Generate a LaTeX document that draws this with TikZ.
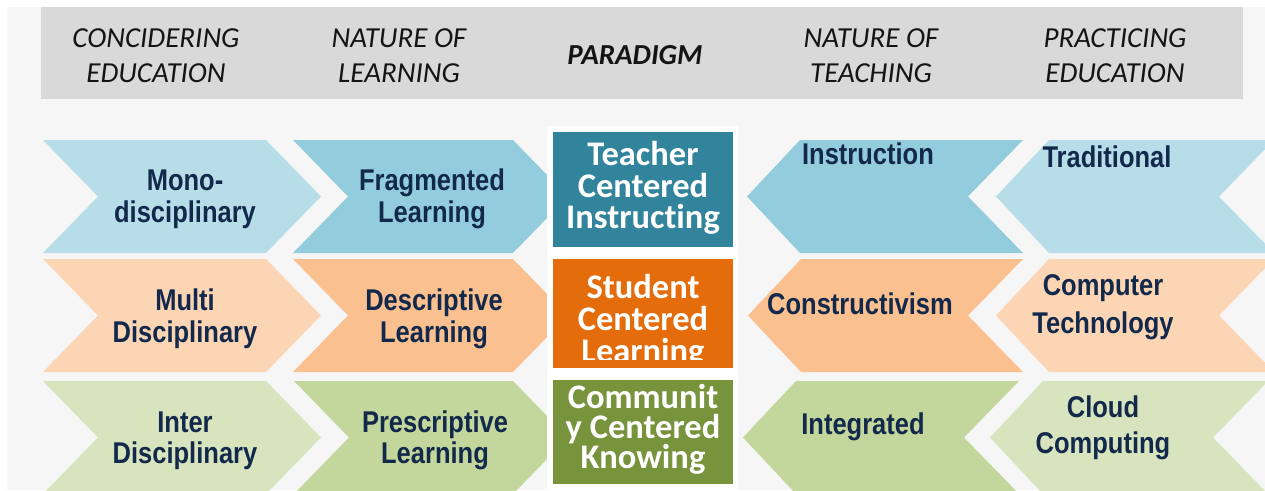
\documentclass[tikz,border=0pt]{standalone}
\usepackage{fontspec}
\newfontfamily\chevf[FakeStretch=0.85]{Liberation Sans}
\newfontfamily\calf[Ligatures=NoCommon]{Carlito}
\definecolor{bgc}{HTML}{F6F6F6}
\definecolor{hdrc}{HTML}{D9D9D9}
\definecolor{navy}{HTML}{13294B}
\definecolor{blueA}{HTML}{B7DEE8}
\definecolor{blueB}{HTML}{93CDDD}
\definecolor{orA}{HTML}{FCD5B5}
\definecolor{orB}{HTML}{FAC090}
\definecolor{grA}{HTML}{D7E4BD}
\definecolor{grB}{HTML}{C3D69B}
\definecolor{tealc}{HTML}{31849B}
\definecolor{orangec}{HTML}{E46C0A}
\definecolor{greenc}{HTML}{77933C}
% right-pointing chevron: left x, top y, top-right x, colour
\newcommand\rchev[4]{\fill[#4] (#1,#2) -- (#3,#2) -- ({#3+55},{#2+56.5}) -- (#3,{#2+113}) -- (#1,{#2+113}) -- ({#1+55},{#2+56.5}) -- cycle;}
% left-pointing chevron: tip x, top y, notch x, colour
\newcommand\lchev[4]{\fill[#4] (#1,{#2+56.5}) -- ({#1+53},#2) -- ({#3+55},#2) -- (#3,{#2+56.5}) -- ({#3+55},{#2+113}) -- ({#1+53},{#2+113}) -- cycle;}
\begin{document}
\begin{tikzpicture}[x=1pt,y=-1pt,
  lbl/.style={anchor=base,inner sep=0pt,text=navy,font=\chevf\bfseries\fontsize{30}{32}\selectfont},
  hd/.style={anchor=base,inner sep=0pt,text=black!92,font=\calf\itshape\fontsize{29}{35}\selectfont},
  mid/.style={anchor=base,inner sep=0pt,text=white,font=\calf\bfseries\fontsize{34.5}{33}\selectfont}]
\useasboundingbox (0,0) rectangle (1265,490);
\clip (0,0) rectangle (1265,490);
\fill[white] (0,0) rectangle (1265,490);
\fill[bgc] (7,7) rectangle (1265,490);
% header bar
\fill[hdrc] (41,7) rectangle (1243,99);
\node[hd] (h1a) at (156,47) {CONCIDERING};
\node[hd] (h1b) at (156,82) {EDUCATION};
\node[hd] (h2a) at (399,47) {NATURE OF};
\node[hd] (h2b) at (399,82) {LEARNING};
\node[hd,font=\calf\bfseries\itshape\fontsize{29}{35}\selectfont] (h3) at (635,64) {PARADIGM};
\node[hd] (h4a) at (871,47) {NATURE OF};
\node[hd] (h4b) at (871,82) {TEACHING};
\node[hd] (h5a) at (1115,47) {PRACTICING};
\node[hd] (h5b) at (1115,82) {EDUCATION};
% left chevrons
\rchev{43}{140}{266}{blueA}
\rchev{293}{140}{513}{blueB}
\rchev{43}{259}{266}{orA}
\rchev{293}{259}{513}{orB}
\rchev{43}{381}{266}{grA}
\rchev{294}{381}{513}{grB}
% right chevrons
\lchev{747}{140}{968}{blueB}
\lchev{996}{140}{1219}{blueA}
\lchev{748}{259}{968}{orB}
\lchev{996}{259}{1219}{orA}
\lchev{743}{381}{964}{grB}
\lchev{990}{381}{1213}{grA}
% middle column
\fill[white] (547,126) rectangle (738,490);
\fill[tealc] (553,132) rectangle (733,247);
\fill[orangec] (553,259) rectangle (733,368);
\fill[greenc] (553,380) rectangle (733,484);
\node[mid] (m1a) at (643,165) {Teacher};
\node[mid] (m1b) at (643,197) {Centered};
\node[mid] (m1c) at (643,228) {Instructing};
\node[mid] (m2a) at (643,298) {Student};
\node[mid] (m2b) at (643,330) {Centered};
\begin{scope}
\clip (553,259) rectangle (733,359);
\node[mid] (m2c) at (643,362) {Learning};
\end{scope}
\node[mid] (m3a) at (643,408) {Communit};
\node[mid] (m3b) at (643,438) {y Centered};
\node[mid] (m3c) at (643,468) {Knowing};
% chevron labels
\node[lbl] (l11a) at (185,190) {Mono-};
\node[lbl] (l11b) at (185,222) {disciplinary};
\node[lbl] (l12a) at (432,190) {Fragmented};
\node[lbl] (l12b) at (432,222) {Learning};
\node[lbl] (l21a) at (185,310) {Multi};
\node[lbl] (l21b) at (185,342) {Disciplinary};
\node[lbl] (l22a) at (434,310) {Descriptive};
\node[lbl] (l22b) at (434,342) {Learning};
\node[lbl] (l31a) at (185,432) {Inter};
\node[lbl] (l31b) at (185,463) {Disciplinary};
\node[lbl] (l32a) at (435,432) {Prescriptive};
\node[lbl] (l32b) at (435,463) {Learning};
\node[lbl] (r14) at (868,164) {Instruction};
\node[lbl] (r15) at (1107,167) {Traditional};
\node[lbl] (r24) at (860,314) {Constructivism};
\node[lbl] (r25a) at (1103,295) {Computer};
\node[lbl] (r25b) at (1103,333) {Technology};
\node[lbl] (r34) at (863,434) {Integrated};
\node[lbl] (r35a) at (1103,417) {Cloud};
\node[lbl] (r35b) at (1103,453) {Computing};
\end{tikzpicture}
\end{document}
